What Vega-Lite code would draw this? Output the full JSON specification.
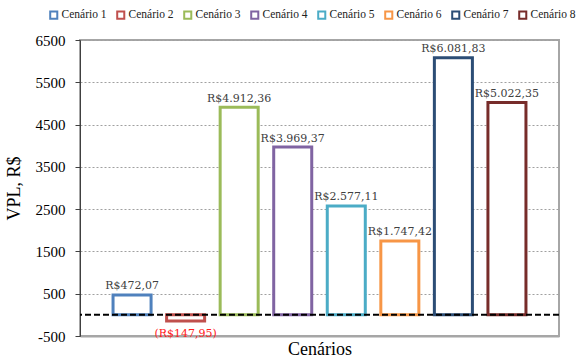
{
  "$schema": "https://vega.github.io/schema/vega-lite/v6.json",
  "width": 479,
  "height": 296,
  "autosize": {"type": "none"},
  "padding": {"left": 80, "top": 40, "right": 24, "bottom": 26},
  "config": {
    "locale": {"number": {"decimal": ",", "thousands": ".", "grouping": [3], "currency": ["R$", ""], "minus": "-"}},
    "view": {"stroke": "#a6a6a6", "strokeWidth": 2},
    "font": "Liberation Serif"
  },
  "data": {"values": [
    {"cenario": "Cenário 1", "vpl": 472.07},
    {"cenario": "Cenário 2", "vpl": -147.95},
    {"cenario": "Cenário 3", "vpl": 4912.36},
    {"cenario": "Cenário 4", "vpl": 3969.37},
    {"cenario": "Cenário 5", "vpl": 2577.11},
    {"cenario": "Cenário 6", "vpl": 1747.42},
    {"cenario": "Cenário 7", "vpl": 6081.83},
    {"cenario": "Cenário 8", "vpl": 5022.35}
  ]},
  "resolve": {"axis": {"y": "independent"}},
  "layer": [
    {
      "mark": {"type": "bar", "fill": "white", "strokeWidth": 3},
      "encoding": {
        "x": {
          "field": "cenario", "type": "nominal",
          "scale": {"paddingInner": 0.29, "paddingOuter": 0.617},
          "axis": {"title": "Cenários", "labels": false, "ticks": false, "domain": true, "domainColor": "#a6a6a6", "domainWidth": 2,
                   "titleFont": "Liberation Serif", "titleFontSize": 18, "titleFontWeight": "normal", "titlePadding": 4, "titleColor": "black"}
        },
        "y": {
          "field": "vpl", "type": "quantitative",
          "scale": {"domain": [-500, 6500], "nice": false, "zero": false},
          "axis": {"title": "VPL, R$", "titleFont": "Liberation Serif", "titleFontSize": 18, "titleFontWeight": "normal", "titleColor": "black", "titlePadding": 12,
                   "values": [-500, 500, 1500, 2500, 3500, 4500, 5500, 6500], "format": "d",
                   "labelFont": "Liberation Serif", "labelFontSize": 15, "labelColor": "black", "labelPadding": 10,
                   "grid": true, "gridColor": "#a0a0a0", "gridDash": [2, 2], "gridWidth": 1,
                   "tickSize": 5, "tickColor": "#404040", "domainColor": "#404040", "domainWidth": 1}
        },
        "stroke": {
          "field": "cenario", "type": "nominal",
          "scale": {"range": ["#4F81BD", "#C0504D", "#9BBB59", "#8064A2", "#4BACC6", "#F79646", "#2C4D75", "#772C2A"]},
          "legend": {"title": null, "orient": "none", "legendX": -32, "legendY": -31, "direction": "horizontal",
                     "symbolType": "square", "symbolSize": 50, "symbolStrokeWidth": 2, "symbolFillColor": "white",
                     "labelFont": "Liberation Serif", "labelFontSize": 11.5, "labelColor": "#222222", "labelOffset": 2, "columnPadding": 6}
        }
      }
    },
    {
      "data": {"values": [{"zero": 0}]},
      "mark": {"type": "rule", "strokeDash": [6, 3], "strokeWidth": 2, "color": "black"},
      "encoding": {
        "y": {"field": "zero", "type": "quantitative", "axis": null}
      }
    },
    {
      "transform": [{"filter": "datum.vpl >= 0"}],
      "mark": {"type": "text", "dy": -8.5, "font": "DejaVu Serif", "fontSize": 11, "color": "#404040"},
      "encoding": {
        "x": {"field": "cenario", "type": "nominal"},
        "y": {"field": "vpl", "type": "quantitative", "axis": null},
        "text": {"field": "vpl", "type": "quantitative", "format": "($,.2f"}
      }
    },
    {
      "transform": [{"filter": "datum.vpl < 0"}],
      "mark": {"type": "text", "baseline": "top", "dy": 7, "font": "DejaVu Serif", "fontSize": 11, "color": "#FF2020"},
      "encoding": {
        "x": {"field": "cenario", "type": "nominal"},
        "y": {"field": "vpl", "type": "quantitative", "axis": null},
        "text": {"field": "vpl", "type": "quantitative", "format": "($,.2f"}
      }
    }
  ]
}
